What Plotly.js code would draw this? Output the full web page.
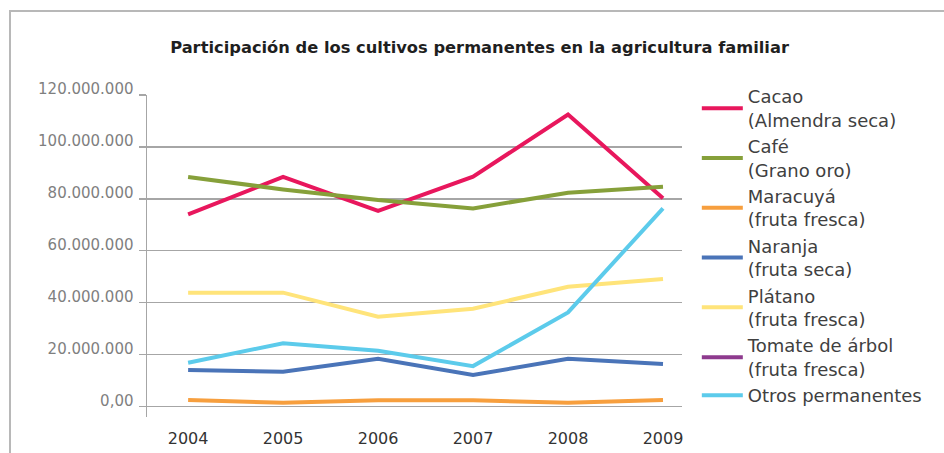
<!DOCTYPE html>
<html>
<head>
<meta charset="utf-8">
<script src="https://cdn.plot.ly/plotly-3.0.1.min.js"></script>
<style>
html,body{margin:0;padding:0;background:#fff;width:944px;height:453px;overflow:hidden;}
#frame{position:absolute;left:9px;top:10px;width:960px;height:470px;border-left:2px solid #b8b8b8;border-top:2px solid #b8b8b8;box-sizing:border-box;}
#chart{position:absolute;left:0;top:0;width:944px;height:453px;}
</style>
</head>
<body>
<div id="frame"></div>
<div id="chart"></div>
<script>
const years = [2004, 2005, 2006, 2007, 2008, 2009];
const seriesNames = [
  "Cacao<br>(Almendra seca)",
  "Café<br>(Grano oro)",
  "Maracuyá<br>(fruta fresca)",
  "Naranja<br>(fruta seca)",
  "Plátano<br>(fruta fresca)",
  "Tomate de árbol<br>(fruta fresca)",
  "Otros permanentes"
];
const cacao    = [74.0e6, 88.4e6, 75.3e6, 88.5e6, 112.5e6, 80.2e6];
const cafe     = [88.4e6, 83.6e6, 79.5e6, 76.3e6, 82.3e6, 84.6e6];
const maracuya = [2.4e6, 1.4e6, 2.3e6, 2.3e6, 1.4e6, 2.4e6];
const naranja  = [14.0e6, 13.3e6, 18.3e6, 12.1e6, 18.3e6, 16.3e6];
const platano  = [43.8e6, 43.8e6, 34.5e6, 37.6e6, 46.1e6, 49.1e6];
const tomate   = [null, null, null, null, null, null];
const otros    = [16.8e6, 24.3e6, 21.4e6, 15.5e6, 36.2e6, 76.3e6];
const yTickVals = [0, 20e6, 40e6, 60e6, 80e6, 100e6, 120e6];
const yTickText = ["0,00", "20.000.000", "40.000.000", "60.000.000", "80.000.000", "100.000.000", "120.000.000"];
const colors = ["#E8175D", "#86A03A", "#F79F3E", "#4A74B8", "#FFE47A", "#8E3A8E", "#5CCBEB"];
const allSeries = [cacao, cafe, maracuya, naranja, platano, tomate, otros];

const traces = allSeries.map((ys, i) => ({
  x: years,
  y: ys,
  name: seriesNames[i],
  type: "scatter",
  mode: "lines",
  line: {color: colors[i], width: 4},
  legendgroup: "g" + i
}));

const layout = {
  width: 944,
  height: 453,
  paper_bgcolor: "rgba(0,0,0,0)",
  plot_bgcolor: "rgba(0,0,0,0)",
  margin: {l: 147, r: 262, t: 95, b: 36, pad: 0},
  title: {
    text: "<b>Participación de los cultivos permanentes en la agricultura familiar</b>",
    font: {family: "DejaVu Sans, sans-serif", size: 16.3, color: "#1f1f1f"},
    x: 0.508, xanchor: "center", xref: "container",
    y: 42, yref: "container", yanchor: "middle"
  },
  xaxis: {
    range: [2003.567, 2009.2],
    tickvals: years,
    ticktext: years.map(String),
    showgrid: false,
    zeroline: false,
    showline: false,
    ticks: "",
    ticklabelstandoff: 10,
    tickfont: {family: "DejaVu Sans, sans-serif", size: 16, color: "#333333"},
    fixedrange: true
  },
  yaxis: {
    range: [-4.12e6, 120e6],
    tickvals: yTickVals,
    ticktext: yTickText,
    showgrid: true,
    gridcolor: "#a6a6a6",
    gridwidth: 1.5,
    zeroline: false,
    showline: true,
    linecolor: "#a6a6a6",
    linewidth: 1.5,
    ticks: "outside",
    ticklen: 7,
    tickcolor: "#a6a6a6",
    tickwidth: 1.5,
    ticklabelshift: -6,
    ticklabelstandoff: 2,
    tickfont: {family: "DejaVu Sans, sans-serif", size: 15, color: "#7f7f7f"},
    fixedrange: true
  },
  legend: {
    x: 1.0277, xanchor: "left",
    y: 1.052, yanchor: "top",
    maxheight: 440,
    itemwidth: 41,
    font: {family: "DejaVu Sans, sans-serif", size: 18, color: "#404040"},
    traceorder: "grouped",
    tracegroupgap: 0,
    bgcolor: "rgba(0,0,0,0)"
  },
  showlegend: true
};

Plotly.newPlot("chart", traces, layout, {displayModeBar: false, staticPlot: true});
</script>
</body>
</html>
